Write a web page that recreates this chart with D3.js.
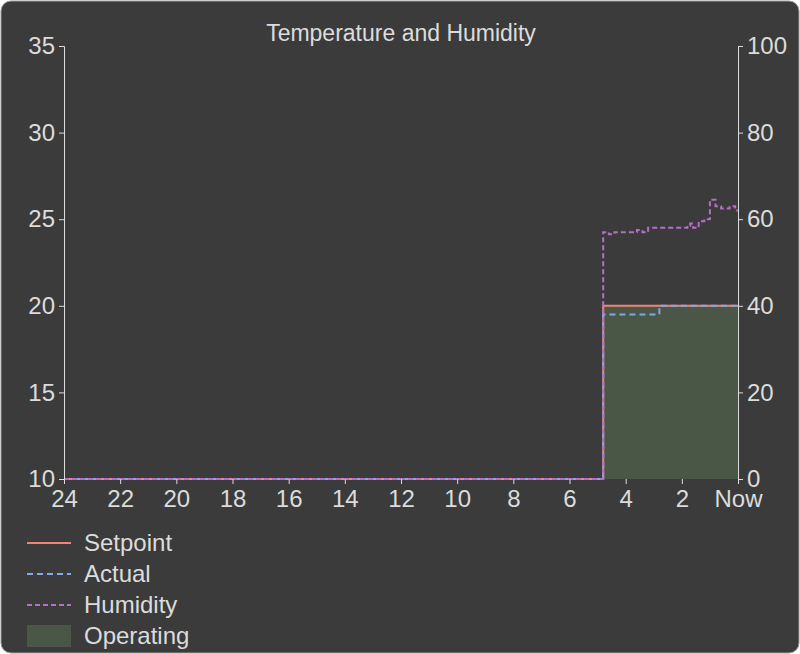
<!DOCTYPE html>
<html><head><meta charset="utf-8">
<script src="https://cdn.jsdelivr.net/npm/d3@7"></script>
<style>
body{margin:0;background:#fff;}
svg{display:block;font-family:"Liberation Sans",Arial,sans-serif;}
</style></head><body>
<svg id="chart" width="800" height="654"></svg>
<script>
// hours ago, value
const hours = [24, 22, 20, 18, 16, 14, 12, 10, 8, 6, 4, 2, 0];
const setpoint = [[24, 10], [4.8, 20], [0, 20]];
const actual = [[24, 10], [4.8, 19.5], [2.8, 20], [0, 20]];
const humidity = [[24, 0], [4.8, 57], [4.6, 56.5], [4.4, 57], [3.6, 57.5], [3.4, 57], [3.2, 58], [1.8, 58.5], [1.7, 59], [1.6, 58], [1.4, 59.5], [1.2, 60], [1.0, 64.5], [0.8, 63], [0.6, 62.5], [0.3, 63], [0.1, 62], [0, 62]];
const operating = [[24, 0], [4.8, 20], [0, 20]];
const legendItems = ['Setpoint', 'Actual', 'Humidity', 'Operating'];

const svg = d3.select('#chart');
svg.append('rect').attr('x', 1).attr('y', 1).attr('width', 798).attr('height', 652)
    .attr('rx', 10).attr('fill', '#3b3b3b').attr('stroke', '#9a9a9a');

const margin = { left: 64, right: 62, top: 46, bottom: 175 };
const x = d3.scaleLinear().domain([24, 0]).range([margin.left, 800 - margin.right]);
const yT = d3.scaleLinear().domain([10, 35]).range([654 - margin.bottom, margin.top]);
const yH = d3.scaleLinear().domain([0, 100]).range([654 - margin.bottom, margin.top]);

const textColor = '#dcdcdc';
const style = (g) => {
    g.selectAll('path,line').attr('stroke', textColor);
    g.selectAll('text').attr('fill', textColor).style('font-size', '24px');
};

// operating area
svg.append('path').datum(operating.filter(d => d[0] <= 4.8))
    .attr('fill', '#4a5646')
    .attr('d', d3.area().curve(d3.curveStepAfter).x(d => x(d[0])).y0(yT(10)).y1(d => yT(d[1])));

const line = (ys) => d3.line().curve(d3.curveStepAfter).x(d => x(d[0])).y(d => ys(d[1]));
svg.append('path').datum(setpoint).attr('fill', 'none').attr('stroke', '#f08478').attr('stroke-width', 2).attr('d', line(yT));
svg.append('path').datum(actual).attr('fill', 'none').attr('stroke', '#7fa9e8').attr('stroke-width', 2).attr('stroke-dasharray', '6,4').attr('d', line(yT));
svg.append('path').datum(humidity).attr('fill', 'none').attr('stroke', '#b56fc8').attr('stroke-width', 2).attr('stroke-dasharray', '5,3').attr('d', line(yH));

svg.append('g').attr('transform', 'translate(0,' + yT(10) + ')')
    .call(d3.axisBottom(x).tickValues(hours).tickSize(5).tickPadding(6).tickFormat(d => d === 0 ? 'Now' : d))
    .call(style).call(g => g.select('.domain').remove());
svg.append('g').attr('transform', 'translate(' + margin.left + ',0)')
    .call(d3.axisLeft(yT).ticks(5).tickSize(5).tickPadding(4)).call(style);
svg.append('g').attr('transform', 'translate(' + (800 - margin.right) + ',0)')
    .call(d3.axisRight(yH).ticks(5).tickSize(5).tickPadding(4)).call(style);

svg.append('text').attr('x', 401).attr('y', 41).attr('text-anchor', 'middle')
    .attr('fill', textColor).style('font-size', '23px').text('Temperature and Humidity');

const leg = svg.append('g');
legendItems.forEach((name, i) => {
    const y0 = 543 + i * 31;
    if (name === 'Operating') {
        leg.append('rect').attr('x', 27).attr('y', y0 - 11).attr('width', 44).attr('height', 22).attr('fill', '#4a5646');
    } else {
        const c = ['#f08478', '#7fa9e8', '#b56fc8'][i];
        leg.append('line').attr('x1', 27).attr('x2', 71).attr('y1', y0).attr('y2', y0)
            .attr('stroke', c).attr('stroke-width', 2)
            .attr('stroke-dasharray', i === 0 ? null : (i === 1 ? '6,4' : '5,3'));
    }
    leg.append('text').attr('x', 84).attr('y', y0 + 8).attr('fill', textColor)
        .style('font-size', '24px').text(name);
});
</script>
</body></html>
